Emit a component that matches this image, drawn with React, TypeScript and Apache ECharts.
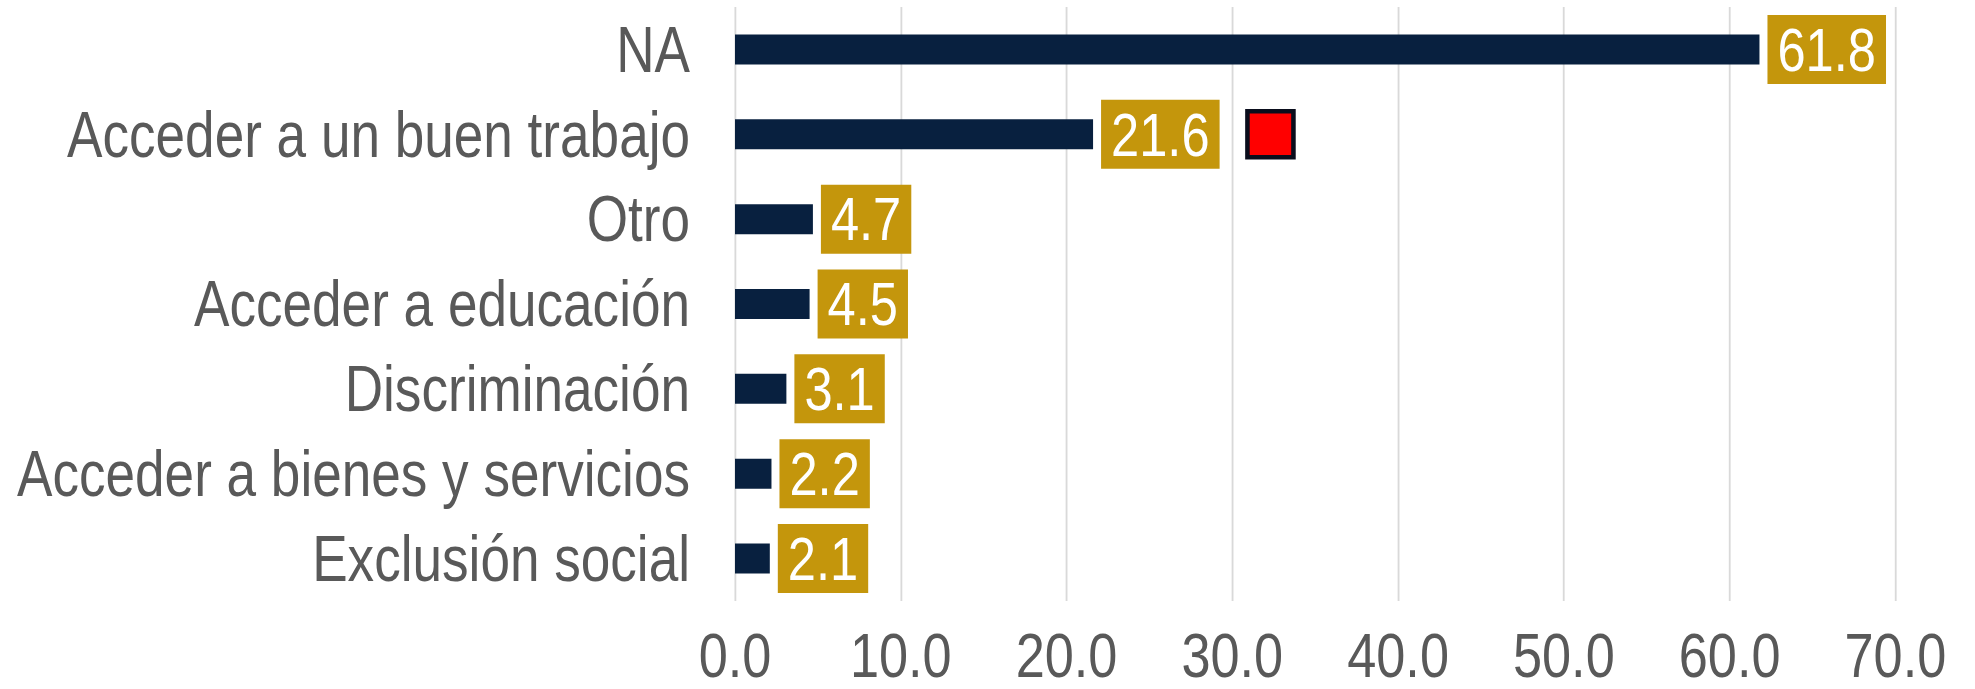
import React, { useEffect, useRef } from "react";
import * as echarts from "echarts";

const categories = [
  "NA",
  "Acceder a un buen trabajo",
  "Otro",
  "Acceder a educación",
  "Discriminación",
  "Acceder a bienes y servicios",
  "Exclusión social",
];
const values = [61.8, 21.6, 4.7, 4.5, 3.1, 2.2, 2.1];
const xTicks = { min: 0, max: 70, interval: 10 };
const markerPoint = { value: 32.3, category: "Acceder a un buen trabajo" };

// Horizontal condensation factor to emulate a narrow (Arial Narrow–like) face
const SX = 0.83;
const W = 1975;
const H = 689;

export default function App() {
  const ref = useRef<HTMLDivElement>(null);
  useEffect(() => {
    if (!ref.current) return;
    const chart = echarts.init(ref.current, undefined, { renderer: "svg" });
    const font = "'Liberation Sans', Arial, sans-serif";
    chart.setOption({
      animation: false,
      grid: {
        left: 735 / SX,
        right: 80 / SX,
        top: 7,
        bottom: 88,
        containLabel: false,
        outerBoundsMode: "none",
      },
      xAxis: {
        type: "value",
        min: xTicks.min,
        max: xTicks.max,
        interval: xTicks.interval,
        axisLine: { show: false },
        axisTick: { show: false },
        splitLine: { show: true, lineStyle: { color: "#d9d9d9", width: 2.2 } },
        axisLabel: {
          fontSize: 63,
          lineHeight: 54,
          color: "#595959",
          fontFamily: font,
          margin: 27,
          formatter: (v: number) => v.toFixed(1),
        },
      },
      yAxis: {
        type: "category",
        data: categories,
        inverse: true,
        axisLine: { show: false },
        axisTick: { show: false },
        splitLine: { show: false },
        axisLabel: {
          fontSize: 64,
          color: "#595959",
          fontFamily: font,
          margin: 45 / SX,
        },
      },
      series: [
        {
          type: "bar",
          data: values,
          barWidth: 30,
          itemStyle: { color: "#08203f" },
          label: {
            show: true,
            position: "right",
            distance: 8 / SX,
            formatter: (p: any) => Number(p.value).toFixed(1),
            color: "#ffffff",
            fontSize: 61,
            lineHeight: 61,
            fontFamily: font,
            backgroundColor: "#c4960c",
            padding: [4, 10 / SX, 4, 10 / SX],
          },
          markPoint: {
            symbol: "rect",
            symbolSize: [46 / SX, 46],
            label: { show: false },
            itemStyle: { color: "#ff0000", borderColor: "#0a0d1c", borderWidth: 5 },
            data: [{ coord: [markerPoint.value, markerPoint.category] }],
          },
        },
      ],
    });
    return () => chart.dispose();
  }, []);
  return (
    <div
      ref={ref}
      style={{
        position: "fixed",
        left: 0,
        top: 0,
        width: W / SX,
        height: H,
        transform: `scaleX(${SX})`,
        transformOrigin: "0 0",
      }}
    />
  );
}
